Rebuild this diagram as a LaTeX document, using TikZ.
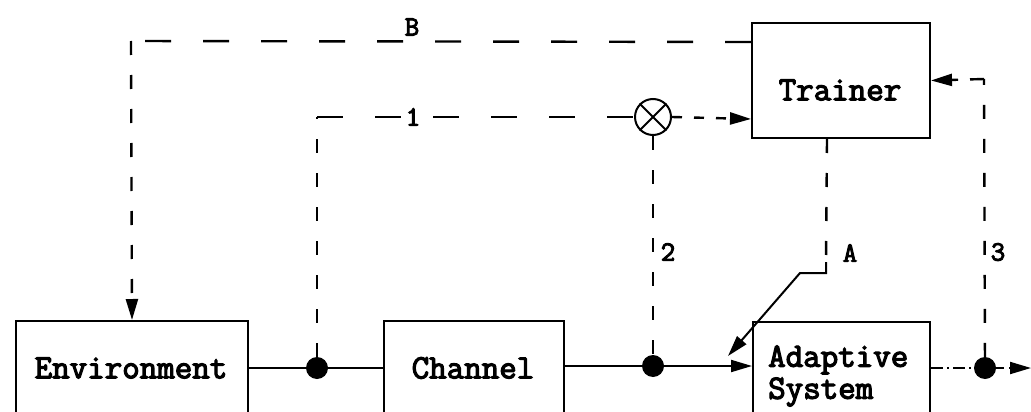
\documentclass[tikz,border=0pt]{standalone}
\usepackage{fontspec}
\newfontfamily\typewriter[FakeBold=3.5]{Latin Modern Mono}
\usetikzlibrary{arrows.meta,calc}
\tikzset{
  box/.style={draw, line width=2pt, anchor=north west, inner sep=0pt},
  txt/.style={font=\typewriter\fontsize{34}{32}\selectfont, inner sep=0pt},
  lbl/.style={font=\typewriter\fontsize{28}{28}\selectfont, inner sep=0pt},
  dot/.style={circle, fill, minimum size=22pt, inner sep=0pt},
  wire/.style={line width=2pt},
  hdash/.style={line width=2.4pt, dash pattern=on 26pt off 32pt},
  vdash/.style={line width=2.4pt, dash pattern=on 14pt off 20pt},
  tip/.style={-{Triangle[length=21pt,width=12pt]}}
}
\begin{document}
\begin{tikzpicture}[x=1pt,y=-1pt]
\useasboundingbox (0,0) rectangle (1031,412);
\fill[white] (0,0) rectangle (1031,412);
\clip (0,0) rectangle (1031,412);

% blocks (their lower edges run off the sheet)
\node[box, minimum width=232pt, minimum height=110pt] (env) at (15,320) {};
\node[box, minimum width=180pt, minimum height=110pt] (ch)  at (383,320) {};
\node[box, minimum width=177pt, minimum height=110pt] (ad)  at (752,321) {};
\node[box, minimum width=178pt, minimum height=115pt] (tr)  at (751,22) {};

\node[txt] (envt) at (131,368) {Environment};
\node[txt] (cht)  at (473,368) {Channel};
\node[txt, anchor=west, align=left] (adt) at (768,376) {Adaptive\\System};
\node[txt] (trt)  at (840,90) {Trainer};

% junctions and multiplier
\node[dot] (j1) at (317,368) {};
\node[dot] (j2) at (653,366) {};
\node[dot] (j3) at (985,368) {};
\node[draw, circle, line width=2pt, minimum size=36pt, inner sep=0pt] (mx) at (653,117) {};
\draw[line width=2pt] (mx.north west) -- (mx.south east) (mx.north east) -- (mx.south west);

\coordinate (cB) at (131,41);
\coordinate (c1) at (317,117);
\coordinate (c3) at (984,79);
\coordinate (aV) at (826,262);
\coordinate (aK) at (826,273);
\coordinate (aH) at (800,273);
\coordinate (aTip) at (728,356);
\coordinate (out) at (1031,368);

% main signal path
\draw[wire] (j1 -| env.east) -- (j1);
\draw[wire] (j1) -- (j1 -| ch.west);
\draw[wire] (j2 -| ch.east) -- (j2);
\draw[wire, tip] (j2) -- (j2 -| ad.west);
\draw[wire, dash pattern=on 12pt off 4pt on 2pt off 4pt] (j3 -| ad.east) -- (j3);
\draw[wire, dash pattern=on 8pt off 5pt, tip] (j3) -- (out);

% path B
\draw[hdash] ($(tr.north west)+(0,20)$) -- (cB);
\draw[vdash, tip] (cB) -- (env.north);
\node[lbl] (lB) at (412,27) {B};

% path 1
\draw[vdash] (j1) -- (c1);
\draw[hdash] (c1) -- (mx.west);
\node[lbl, fill=white, inner sep=3pt] (l1) at (413,117) {1};
\draw[line width=2.4pt, dash pattern=on 10pt off 12pt, tip] (mx.east) -- ($(tr.south west)+(0,-20)$);

% path 2
\draw[vdash] (mx.south) -- (j2);
\node[lbl] (l2) at (668,252) {2};

% path A
\draw[vdash] ($(tr.south)+(-14,0)$) -- (aV);
\draw[wire, tip] (aV) -- (aK) -- (aH) -- (aTip);
\node[lbl] (lA) at (850,253) {A};

% path 3
\draw[vdash] (j3) -- (c3);
\draw[line width=2.4pt, dash pattern=on 14pt off 12pt, tip] (c3) -- (tr.east);
\node[lbl] (l3) at (998,252) {3};
\end{tikzpicture}
\end{document}
